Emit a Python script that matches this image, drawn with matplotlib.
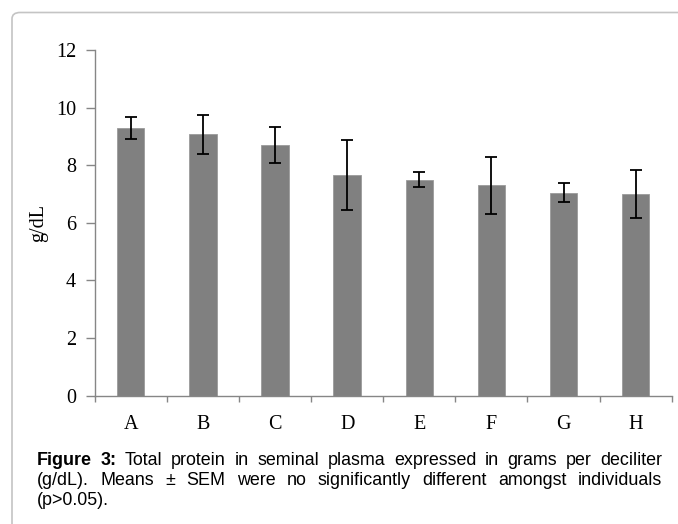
import matplotlib
matplotlib.use("Agg")
import matplotlib.pyplot as plt
from matplotlib.patches import FancyBboxPatch
import numpy as np

categories = ["A", "B", "C", "D", "E", "F", "G", "H"]
means = [9.28, 9.07, 8.71, 7.66, 7.50, 7.30, 7.05, 7.00]
sems = [0.38, 0.68, 0.63, 1.23, 0.25, 0.99, 0.33, 0.83]
y_ticks = [0, 2, 4, 6, 8, 10, 12]
y_label = "g/dL"
caption_lines = [
    [("Figure", "bold"), ("3:", "bold"), ("Total", "normal"), ("protein", "normal"), ("in", "normal"),
     ("seminal", "normal"), ("plasma", "normal"), ("expressed", "normal"), ("in", "normal"),
     ("grams", "normal"), ("per", "normal"), ("deciliter", "normal")],
    [("(g/dL).", "normal"), ("Means", "normal"), ("±", "normal"), ("SEM", "normal"), ("were", "normal"),
     ("no", "normal"), ("significantly", "normal"), ("different", "normal"), ("amongst", "normal"),
     ("individuals", "normal")],
    [("(p>0.05).", "normal")],
]

W, H = 678, 524
fig = plt.figure(figsize=(W / 100, H / 100), dpi=100)
fig.patch.set_facecolor("white")

# rounded frame (cut off at right and bottom)
frame = FancyBboxPatch((12 / W, -0.2), 1.2, (H - 12.5) / H + 0.2,
                       boxstyle="round,pad=0,rounding_size=0.012",
                       transform=fig.transFigure, facecolor="none",
                       edgecolor="#c4c4c4", linewidth=1.2, clip_on=False)
fig.patches.append(frame)

ax = fig.add_axes([94.7 / W, (H - 395.7) / H, (671.7 - 94.7) / W, (395.7 - 50) / H])
x = np.arange(len(categories))
ax.bar(x, means, width=0.38, color="#808080", edgecolor="#9a9a9a", linewidth=0.6, zorder=2)
ax.errorbar(x, means, yerr=sems, fmt="none", ecolor="black", elinewidth=1.3,
            capsize=4.5, capthick=1.3, zorder=3)

ax.set_xlim(-0.5, len(categories) - 0.5)
ax.set_ylim(0, 12)
ax.set_yticks(y_ticks)
ax.set_yticklabels([str(t) for t in y_ticks])
ax.set_xticks(np.append(x - 0.5, len(categories) - 0.5))
ax.set_xticklabels([])
ax.set_xticks(x, minor=True)
ax.set_xticklabels(categories, minor=True)

for s in ["top", "right"]:
    ax.spines[s].set_visible(False)
for s in ["left", "bottom"]:
    ax.spines[s].set_color("#868686")
    ax.spines[s].set_linewidth(1.0)

serif = ["Liberation Serif", "DejaVu Serif"]
ax.tick_params(axis="y", which="major", direction="out", length=6.3, width=1.0,
               color="#868686", pad=7, labelsize=14.5)
ax.tick_params(axis="x", which="major", direction="out", length=4.5, width=1.0,
               color="#868686")
ax.tick_params(axis="x", which="minor", length=0, pad=14, labelsize=14.5)
for lab in ax.get_yticklabels() + ax.get_xticklabels(minor=True):
    lab.set_family(serif)

ax.set_ylabel(y_label, family=serif, fontsize=14.5, labelpad=6)

# justified caption
fig.canvas.draw()
renderer = fig.canvas.get_renderer()
x0, x1 = 37.0, 662.0
baselines = [465.0, 485.0, 505.0]
fs = 12.9
for li, (words, base) in enumerate(zip(caption_lines, baselines)):
    texts = []
    for w, wt in words:
        t = fig.text(0, 1 - base / H, w, fontsize=fs, weight=wt,
                     family=["Liberation Sans", "DejaVu Sans"], va="baseline", ha="left")
        texts.append(t)
    widths = [t.get_window_extent(renderer).width for t in texts]
    if li < len(caption_lines) - 1 and len(texts) > 1:
        gap = (x1 - x0 - sum(widths)) / (len(texts) - 1)
    else:
        gap = fs * 0.28
    cur = x0
    for t, wdt in zip(texts, widths):
        t.set_x(cur / W)
        cur += wdt + gap

fig.savefig("out.png", dpi=100, facecolor="white")
